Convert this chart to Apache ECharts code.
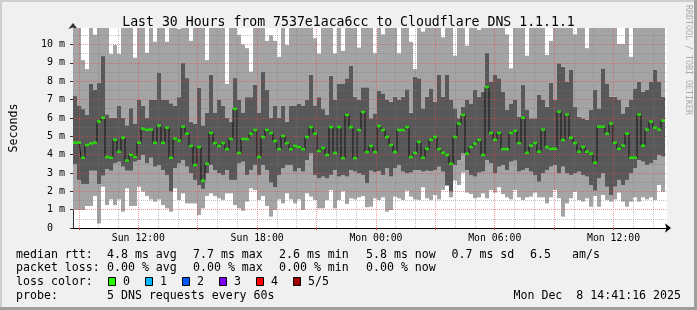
<!DOCTYPE html>
<html><head><meta charset="utf-8">
<script src="https://cdn.jsdelivr.net/npm/echarts@6/dist/echarts.min.js"></script>
<style>html,body{margin:0;padding:0;background:#f0f0f0}#c{width:697px;height:310px}</style>
</head><body><div id="c"></div>
<script>
// ---- data (hours since Sun 00:00; values in milliseconds) ----
const firstBarStart = 9.0;   // Sun 09:00
const barStep = 0.2;         // 12 minutes per bar
const median = [4.65,4.65,3.83,4.52,4.60,4.65,5.80,6.01,3.87,3.83,
 4.81,4.16,4.92,3.67,3.98,3.87,4.65,5.41,5.36,5.36,
 4.65,5.58,4.65,5.47,3.83,4.87,4.76,5.52,5.14,4.47,
 3.43,4.41,2.58,3.50,5.18,4.63,4.47,4.63,4.30,4.85,
 6.49,4.09,4.85,4.85,5.14,5.34,3.87,4.96,5.34,5.18,
 4.74,4.30,5.01,4.63,4.30,4.47,4.41,4.30,4.96,5.50,
 5.14,4.20,4.36,3.98,5.50,4.09,5.50,3.81,6.16,5.50,
 3.81,5.34,6.32,4.14,4.47,4.14,5.56,5.34,4.96,4.52,
 4.14,5.34,5.34,5.50,3.87,4.09,4.69,3.83,4.32,4.81,
 4.96,4.30,4.10,3.98,3.50,4.96,5.69,6.16,4.05,4.41,
 4.60,4.80,3.98,7.68,5.18,4.81,5.18,4.30,4.30,5.18,
 5.29,4.63,6.01,4.10,4.49,4.63,4.16,5.36,4.41,4.32,
 4.32,6.34,4.80,6.18,4.92,4.63,4.16,4.41,4.16,4.05,
 3.56,5.52,5.52,5.14,5.69,4.65,4.32,4.49,5.14,3.83,
 3.83,6.18,4.49,5.36,5.80,5.47,5.36,5.85];
// lowest ping
const ping1 = [0.98,0.98,0.98,1.20,1.20,1.74,0.25,2.25,1.25,1.56,
 1.25,1.56,0.89,2.16,1.20,1.20,2.25,1.98,1.74,1.56,
 1.44,1.56,1.25,1.07,0.89,2.16,1.53,1.89,1.34,1.34,
 1.34,0.71,1.07,1.74,1.89,1.74,1.62,1.53,1.89,1.89,
 1.25,1.07,0.94,1.44,2.16,2.07,1.53,1.74,1.20,0.62,
 0.98,1.56,1.34,1.89,1.56,1.34,1.56,0.98,1.89,1.71,
 1.53,1.07,1.07,1.53,2.07,1.07,1.53,2.00,1.31,1.62,
 1.56,1.67,1.74,1.13,1.16,1.62,1.53,1.67,0.89,0.98,
 1.71,1.62,1.53,2.03,1.71,1.56,1.53,2.22,1.62,1.53,
 1.80,1.56,2.07,2.29,1.67,2.58,2.34,3.02,1.93,1.85,
 1.62,1.67,1.89,1.62,2.07,1.93,2.22,1.85,1.67,1.56,
 2.07,1.67,1.53,1.67,1.71,1.93,1.67,1.67,1.34,1.67,
 2.07,1.62,0.62,1.34,1.62,1.98,1.53,1.44,1.62,1.16,
 1.74,1.16,1.80,1.53,1.44,1.56,1.93,1.44,1.16,1.44,
 1.67,1.44,1.67,1.56,1.67,1.53,2.34,1.98];
// second ping
const ping2 = [3.49,2.62,2.40,2.40,3.12,3.12,2.40,2.85,3.20,3.12,
 3.52,3.61,3.34,3.12,3.12,3.61,3.70,3.98,3.52,3.83,
 3.34,3.43,3.16,2.89,1.98,3.25,3.52,3.70,3.34,2.98,
 2.62,2.34,2.13,2.98,3.43,3.16,2.98,2.89,3.16,2.62,
 2.62,3.52,3.61,2.89,3.16,3.43,2.89,3.43,3.16,2.47,
 2.22,2.89,3.25,3.43,3.43,3.07,3.25,3.07,3.70,4.07,
 2.89,2.70,2.80,2.70,2.89,3.16,2.80,2.89,2.80,3.16,
 3.07,2.98,2.89,2.43,3.12,3.05,3.10,2.89,3.25,2.80,
 3.25,3.43,3.07,2.98,3.02,3.16,3.16,3.07,3.12,3.10,
 3.16,3.34,3.07,2.34,1.98,3.43,3.70,4.07,3.16,2.89,
 2.80,3.02,3.07,3.70,3.52,2.98,3.34,3.43,3.16,3.61,
 3.67,3.07,3.16,3.25,3.07,2.89,2.52,2.98,3.16,3.34,
 3.43,2.98,3.34,2.98,2.89,2.98,3.07,2.89,2.80,2.34,
 2.03,2.70,2.98,2.25,1.80,2.25,2.62,2.34,2.62,2.98,
 3.25,3.70,3.61,3.43,3.52,3.70,3.98,3.89];
// fourth ping
const ping4 = [7.19,6.65,6.48,6.16,7.85,7.52,7.90,9.37,6.20,6.00,
 6.00,6.65,6.00,5.60,6.53,5.70,7.00,6.65,6.00,7.00,
 7.00,8.48,7.00,7.00,6.80,6.65,7.13,8.99,8.17,5.80,
 5.70,7.65,5.60,6.27,8.35,6.30,7.00,6.65,6.00,5.80,
 8.17,7.00,6.30,7.13,7.13,7.80,6.30,8.53,7.52,6.00,
 6.65,6.00,6.65,5.80,6.65,6.65,6.76,6.65,7.00,8.35,
 6.65,7.13,6.48,6.16,8.30,7.00,7.85,7.88,8.16,8.83,
 7.16,6.98,7.67,7.67,5.98,6.25,7.48,7.34,6.98,6.88,
 7.16,6.98,7.16,7.56,6.28,8.25,8.16,6.52,7.16,7.61,
 6.88,8.34,7.16,8.34,6.98,6.52,5.98,6.61,6.98,6.79,
 7.52,7.16,7.43,9.55,7.97,8.34,8.16,7.43,6.43,6.79,
 6.98,6.07,7.79,6.43,5.98,5.98,7.25,6.98,6.61,7.92,
 6.98,8.98,8.79,7.97,8.61,6.61,6.07,5.98,5.90,6.43,
 7.52,6.52,8.70,7.88,7.16,7.16,6.98,6.25,6.61,6.98,
 7.61,7.97,7.43,7.52,7.97,8.64,7.97,7.16];
// highest ping (11.5 = above the visible top)
const ping5 = [11.5,11.5,9.15,8.66,11.5,10.53,11.5,11.5,11.5,9.48,
 9.97,9.48,11.5,11.5,11.5,9.28,11.5,11.5,9.55,11.5,
 10.15,11.5,11.5,10.15,11.5,11.5,10.84,11.5,11.5,10.2,
 11.5,11.5,11.5,9.15,11.5,11.5,11.5,11.5,7.85,11.5,
 11.5,10.53,10.0,9.8,8.52,11.5,11.5,11.5,10.2,10.5,
 10.2,9.33,11.5,9.97,11.5,11.5,11.5,11.5,11.5,11.5,
 10.34,9.5,11.5,11.5,11.5,9.5,11.5,9.66,11.5,11.5,
 11.5,9.83,11.5,11.5,11.5,9.52,11.5,10.55,11.5,11.5,
 11.5,9.52,11.5,11.5,10.15,8.66,11.5,10.7,11.5,11.5,
 11.5,11.5,10.39,11.5,11.5,9.39,11.5,11.5,9.94,11.5,
 11.5,10.8,11.5,11.5,11.5,11.5,11.5,11.5,10.55,8.7,
 11.5,11.5,11.5,9.39,11.5,11.5,11.5,11.5,9.43,10.2,
 11.5,11.5,11.5,11.5,11.5,10.55,11.5,11.5,9.8,11.5,
 11.5,11.5,11.5,11.5,11.5,11.5,10.03,10.03,11.5,9.33,
 11.5,11.5,11.5,11.5,11.5,11.5,11.5,11.5];

const xTickValues = [12, 18, 24, 30, 36];
const xTickLabels = ['Sun 12:00', 'Sun 18:00', 'Mon 00:00', 'Mon 06:00', 'Mon 12:00'];
const xMajorGrid = [9, 12, 15, 18, 21, 24, 27, 30, 33, 36];
const xMinorGrid = [10, 11, 13, 14, 16, 17, 19, 20, 22, 23, 25, 26, 28, 29, 31, 32, 34, 35, 37, 38];
const yTickValues = [0, 1, 2, 3, 4, 5, 6, 7, 8, 9, 10];
const yMinorGrid = [0.5, 1.5, 2.5, 3.5, 4.5, 5.5, 6.5, 7.5, 8.5, 9.5, 10.5];

const titleText = 'Last 30 Hours from 7537e1aca6cc to Cloudflare DNS 1.1.1.1';
const rttStats = ['4.8 ms avg', '7.7 ms max', '2.6 ms min', '5.8 ms now', '0.7 ms sd', '6.5', 'am/s'];
const lossStats = ['0.00 % avg', '0.00 % max', '0.00 % min', '0.00 % now'];
const lossLabels = ['0', '1', '2', '3', '4', '5/5'];
const lossColors = ['#26ff00', '#00b8ff', '#0059ff', '#7e00ff', '#ff0000', '#a10000'];
const probeText = '5 DNS requests every 60s';
const stampText = 'Mon Dec  8 14:41:16 2025';

// ---- build ----
const MONO = 'DejaVu Sans Mono';
const cats = median.map((_, i) => (firstBarStart + barStep * (i + 0.5)).toFixed(2));
const diff = (a, b) => a.map((v, i) => +(v - b[i]).toFixed(3));

const barCommon = { type: 'bar', stack: 'smoke', barWidth: 4, silent: true, xAxisIndex: 1, yAxisIndex: 1, clip: true };

const markData = [];
xMajorGrid.forEach(v => markData.push({ xAxis: v, lineStyle: { color: 'rgba(235,70,70,0.55)' } }));
xMinorGrid.forEach(v => markData.push({ xAxis: v, lineStyle: { color: 'rgba(120,120,120,0.45)' } }));
yTickValues.slice(1).forEach(v => markData.push({ yAxis: v, lineStyle: { color: 'rgba(235,70,70,0.55)' } }));
yMinorGrid.forEach(v => markData.push({ yAxis: v, lineStyle: { color: 'rgba(120,120,120,0.45)' } }));

const graphics = [];
graphics.push({ type: 'rect', shape: { x: 0, y: 0, width: 697, height: 2 }, style: { fill: '#cfcfcf' }, silent: true });
graphics.push({ type: 'rect', shape: { x: 0, y: 0, width: 2, height: 310 }, style: { fill: '#cfcfcf' }, silent: true });
graphics.push({ type: 'rect', shape: { x: 694, y: 0, width: 3, height: 310 }, style: { fill: '#9e9e9e' }, silent: true });
graphics.push({ type: 'rect', shape: { x: 0, y: 307, width: 697, height: 3 }, style: { fill: '#9e9e9e' }, silent: true });

const legFont = '11.6px "' + MONO + '"';
function txt(x, y, s, align) {
  graphics.push({ type: 'text', x: x, y: y, silent: true,
    style: { text: s, font: legFont, fill: '#000', align: align || 'left', verticalAlign: 'middle' } });
}
const colX = [107, 193, 279, 366, 451.5, 530, 572];
const rowY = [254.5, 268, 282, 295.5];
txt(16, rowY[0], 'median rtt:');
rttStats.forEach((s, i) => txt(colX[i], rowY[0], s));
txt(16, rowY[1], 'packet loss:');
lossStats.forEach((s, i) => txt(colX[i], rowY[1], s));
txt(16, rowY[2], 'loss color:');
const boxX = [108.5, 145.5, 182.5, 219.5, 256.5, 293.5];
lossLabels.forEach((s, i) => {
  graphics.push({ type: 'rect', silent: true, shape: { x: boxX[i], y: 277.5, width: 7, height: 8 },
    style: { fill: lossColors[i], stroke: '#000', lineWidth: 1 } });
  txt(boxX[i] + 14.5, rowY[2], s);
});
txt(16, rowY[3], 'probe:');
txt(107, rowY[3], probeText);
txt(681, rowY[3], stampText, 'right');
graphics.push({ type: 'text', x: 688, y: 60, rotation: -Math.PI / 2, silent: true,
  style: { text: 'RRDTOOL / TOBI OETIKER', font: '8.3px "' + MONO + '"', fill: '#ababab', align: 'center', verticalAlign: 'middle' } });

const chart = echarts.init(document.getElementById('c'), null, { renderer: 'canvas' });
chart.setOption({
  animation: false,
  backgroundColor: '#f0f0f0',
  title: { text: titleText, left: 'center', top: 11,
    textStyle: { fontFamily: MONO, fontSize: 13.2, fontWeight: 'normal', color: '#000' } },
  grid: [
    { left: 67, top: 28, width: 600, height: 200, show: true, backgroundColor: '#ffffff', borderWidth: 0 },
    { left: 73, top: 28, width: 592, height: 200, show: false }
  ],
  xAxis: [{
    type: 'value', min: 8.7, max: 38.7, gridIndex: 0,
    axisLine: { show: true, lineStyle: { color: '#000', width: 1 }, symbol: ['none', 'arrow'], symbolSize: [7, 6], symbolOffset: [0, 4] },
    axisTick: { show: true, customValues: xMajorGrid, length: 2, lineStyle: { color: '#d04040' } },
    axisLabel: { customValues: xTickValues, margin: 5, fontFamily: MONO, fontSize: 9.8, color: '#000',
      formatter: (v) => { const k = xTickValues.indexOf(v); return k >= 0 ? xTickLabels[k] : ''; } },
    splitLine: { show: false }
  }, {
    type: 'category', gridIndex: 1, data: cats, show: false, boundaryGap: true
  }],
  yAxis: [{
    type: 'value', min: 0, max: 10.9, gridIndex: 0,
    name: 'Seconds', nameLocation: 'middle', nameGap: 53, nameRotate: 90,
    nameTextStyle: { fontFamily: MONO, fontSize: 11.6, color: '#000' },
    axisLine: { show: true, lineStyle: { color: '#333', width: 1 }, symbol: ['none', 'arrow'], symbolSize: [7, 6], symbolOffset: [0, 5] },
    axisTick: { show: true, customValues: yTickValues, length: 3, lineStyle: { color: '#333' } },
    axisLabel: { customValues: yTickValues, margin: 8, fontFamily: MONO, fontSize: 10, color: '#000',
      formatter: (v) => v === 0 ? '0  ' : (v + ' m') },
    splitLine: { show: false }
  }, {
    type: 'value', min: 0, max: 10.9, gridIndex: 1, show: false, splitLine: { show: false }
  }],
  graphic: graphics,
  series: [
    Object.assign({}, barCommon, { name: 'base', data: ping1, itemStyle: { color: 'rgba(0,0,0,0)' }, z: 1 }),
    Object.assign({}, barCommon, { name: 'low', data: diff(ping2, ping1), itemStyle: { color: '#a4a4a4' }, z: 1 }),
    Object.assign({}, barCommon, { name: 'core', data: diff(ping4, ping2), itemStyle: { color: '#585858' }, z: 1 }),
    Object.assign({}, barCommon, { name: 'high', data: diff(ping5, ping4), itemStyle: { color: '#a4a4a4' }, z: 1 }),
    { type: 'line', name: 'grid', xAxisIndex: 0, yAxisIndex: 0, data: [[8.7, 0]], symbol: 'none', lineStyle: { opacity: 0 }, silent: true, z: 3,
      markLine: { silent: true, symbol: ['none', 'none'], label: { show: false }, animation: false,
        lineStyle: { type: [1, 1], width: 1 }, data: markData } },
    { type: 'line', name: 'median', xAxisIndex: 1, yAxisIndex: 1, data: median, step: 'middle', symbol: 'none', silent: true, z: 4,
      itemStyle: { color: '#111' }, lineStyle: { color: '#111', width: 1 } },
    { type: 'scatter', name: 'median-loss', xAxisIndex: 1, yAxisIndex: 1, data: median, symbol: 'rect', symbolSize: [4, 2.5], silent: true, z: 5,
      itemStyle: { color: lossColors[0] } }
  ]
});
</script></body></html>
